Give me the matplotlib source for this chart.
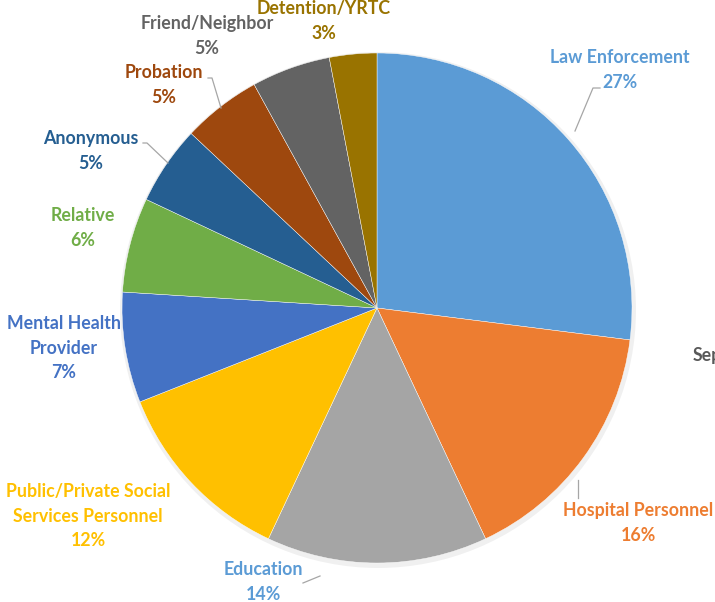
import matplotlib.pyplot as plt

# data
labels = ['Law Enforcement', 'Hospital Personnel', 'Education',
          'Public/Private Social\nServices Personnel', 'Mental Health\nProvider',
          'Relative', 'Anonymous', 'Probation', 'Friend/Neighbor', 'Detention/YRTC']
shares = [27, 16, 14, 12, 7, 6, 5, 5, 5, 3]
colors = ['#5B9BD5', '#ED7D31', '#A5A5A5', '#FFC000', '#4472C4',
          '#70AD47', '#255E91', '#9E480E', '#636363', '#997300']
label_colors = ['#5B9BD5', '#ED7D31', '#5B9BD5', '#FFC000', '#4472C4',
                '#70AD47', '#255E91', '#9E480E', '#636363', '#997300']

# label positions in pixels (x, y from top)
label_pos = [(620, 70), (638, 523), (263, 582), (88, 516), (64, 348),
             (83, 228), (91, 151), (164, 85), (207, 36), (324, 21)]

W, H = 715, 602
fig = plt.figure(figsize=(W / 100, H / 100), dpi=100)
ax = fig.add_axes([0, 0, 1, 1])

cx, cy, r = 377, H - 308, 255

# faint shadow behind pie
shadow = plt.Circle((cx + 1, cy - 2), r + 3, color='#000000', alpha=0.06, lw=0)
ax.add_patch(shadow)

ax.pie(shares, colors=colors, startangle=90, counterclock=False,
       center=(cx, cy), radius=r, wedgeprops=dict(linewidth=0.3, edgecolor='white'),
       frame=True)
ax.set_xlim(0, W)
ax.set_ylim(0, H)
ax.axis('off')

for lab, val, col, (x, y) in zip(labels, shares, label_colors, label_pos):
    ax.text(x, H - y, f'{lab}\n{val}%', ha='center', va='center', color=col,
            fontsize=12.8, fontweight='bold', family='Lato', linespacing=1.55)

# leader lines (pixel coords from top)
leaders = [
    [(575, 131), (593, 88), (600, 88)],
    [(578, 480), (578, 498)],
    [(303, 583), (320, 576)],
    [(221, 108), (212, 78), (208, 78)],
    [(168, 163), (147, 143), (143, 143)],
]
for pts in leaders:
    xs = [p[0] for p in pts]
    ys = [H - p[1] for p in pts]
    ax.plot(xs, ys, color='#A6A6A6', lw=0.9)

ax.text(693, H - 355, 'Sep', ha='left', va='center', color='#595959',
        fontsize=12.8, fontweight='bold', family='Lato')

fig.savefig('out.png', dpi=100, facecolor='white')
